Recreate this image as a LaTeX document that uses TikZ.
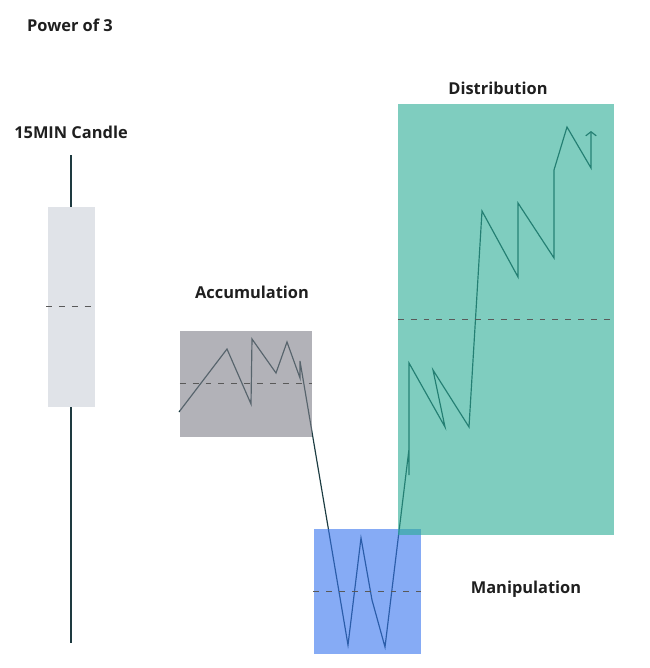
\documentclass[tikz,border=0pt]{standalone}
\usepackage{fontspec}
\setmainfont{Open Sans}
\usetikzlibrary{arrows.meta}
\definecolor{candlegray}{HTML}{E0E3E8}
\definecolor{wickcol}{HTML}{1E3A40}
\definecolor{accgray}{HTML}{7F7F89}
\definecolor{manblue}{HTML}{3573EE}
\definecolor{distteal}{HTML}{2AAC94}
\definecolor{pricecol}{HTML}{1C3C42}
\tikzset{lbl/.style={font=\bfseries\fontsize{14}{16}\selectfont, text=black!88, inner sep=0pt},
  zone/.style={fill opacity=0.6, draw=none},
  midline/.style={dashed, dash pattern=on 5pt off 6pt, draw=black!65, line width=0.8pt}}

\begin{document}
\begin{tikzpicture}[x=0.03cm,y=-0.03cm]
	\useasboundingbox (0,0) rectangle (650,668);
	\node (title) at (70,25) [lbl] {Power of 3};
	\node (candlelbl) at (71,132) [lbl] {15MIN Candle};
	% candle
	\coordinate (wicktop) at (71,155);
	\coordinate (wickbot) at (71,643);
	\draw [wickcol,line width=0.9pt] (wicktop) -- (wickbot);
	\fill [candlegray] (48,207) rectangle (95,407);
	\draw [midline] (46,306) -- (96,306);
	% price path
	\draw [pricecol,line width=1pt,-{Straight Barb[length=3.5pt,width=9pt]}]
	  (179,412) -- (227,349) -- (251,404) -- (252,339) -- (276,373) -- (287,342)
	  -- (300,378) -- (300,361) -- (348,645) -- (361,538) -- (372,600) -- (385,647)
	  -- (409,449) -- (409,475) -- (409,363) -- (445,427) -- (433,370) -- (469,427)
	  -- (482,211) -- (518,277) -- (518,203) -- (554,258) -- (554,170) -- (567,127)
	  -- (591,168) -- (591,131);
	% zones
	\node (accbox) at (246,383.5) [zone,fill=accgray,minimum width=132*0.03cm,minimum height=106*0.03cm] {};
	\node (manbox) at (367,591.5) [zone,fill=manblue,minimum width=107*0.03cm,minimum height=125*0.03cm] {};
	\node (distbox) at (506,319.5) [zone,fill=distteal,minimum width=216*0.03cm,minimum height=431*0.03cm] {};
	\draw [midline] (accbox.west) -- (accbox.east);
	\draw [midline] (manbox.west) -- (manbox.east);
	\draw [midline] (distbox.west) -- (distbox.east);
	\node (acclbl) at (252,292) [lbl] {Accumulation};
	\node (manlbl) at (526,589) [lbl] {Manipulation};
	\node (distlbl) at (498,88) [lbl] {Distribution};
\end{tikzpicture}
\end{document}
